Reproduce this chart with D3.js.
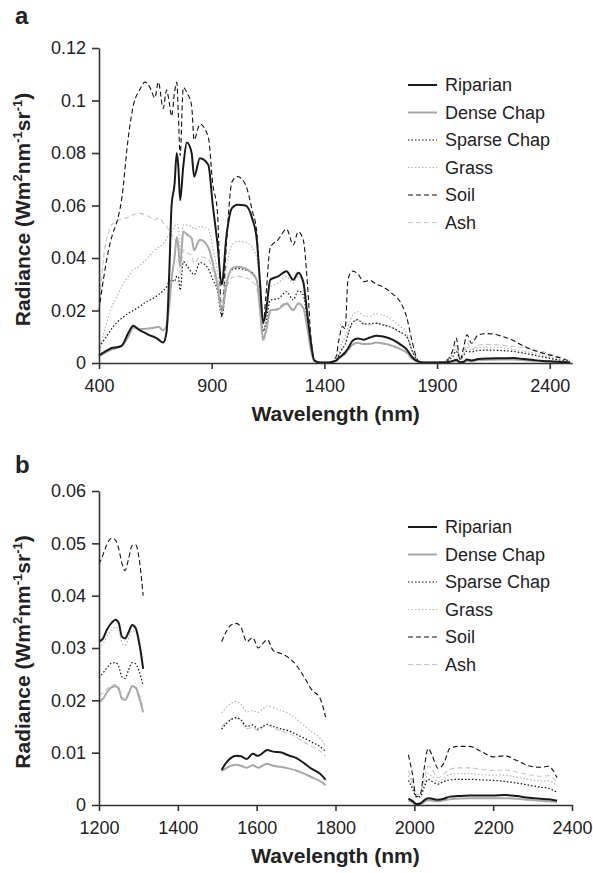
<!DOCTYPE html>
<html>
<head>
<meta charset="utf-8">
<script src="https://cdn.jsdelivr.net/npm/d3@7"></script>
<style>
    body { margin: 0; background: #fff; }
    text { font-family: Arial, "Liberation Sans", sans-serif; fill: #222; }
</style>
</head>
<body>
<div id="box-div"></div>
<script>
////////////////////////data////////////////////////
const seriesNames = ['Riparian', 'Dense Chap', 'Sparse Chap', 'Grass', 'Soil', 'Ash'];

// panel a: full spectrum
const wlA = [400, 420, 440, 460, 480, 500, 530, 552, 580, 604, 626, 648, 663, 685, 700, 712, 722, 735, 745, 752,
    760, 774, 790, 811, 822, 848, 885, 905, 925, 945, 965, 990, 1015, 1050, 1080, 1100, 1115, 1128, 1140, 1160,
    1195, 1232, 1262, 1284, 1306, 1325, 1340, 1355, 1380, 1420, 1450, 1465, 1480, 1492, 1505, 1525, 1548, 1575, 1602, 1630,
    1660, 1700, 1735, 1765, 1790, 1815, 1840, 1880, 1920, 1950, 1970, 1985, 2002, 2018, 2033, 2053, 2083, 2127, 2194, 2240,
    2283, 2330, 2371, 2410, 2450, 2490];
const riparianA = [0.003, 0.004, 0.005, 0.0058, 0.006, 0.0065, 0.0114, 0.0142, 0.0125, 0.0115, 0.0105, 0.0098, 0.009, 0.0078, 0.012, 0.035, 0.060, 0.068, 0.080, 0.075,
    0.062, 0.075, 0.084, 0.080, 0.071, 0.078, 0.0755, 0.060, 0.046, 0.030, 0.048, 0.059, 0.0603, 0.060, 0.055, 0.047, 0.030, 0.0155, 0.019, 0.0317,
    0.033, 0.035, 0.0317, 0.0344, 0.031, 0.018, 0.008, 0.001, 0.0002, 0.0002, 0.0008, 0.002, 0.003, 0.004, 0.0055, 0.0085, 0.0093, 0.0089, 0.0097, 0.0104,
    0.0101, 0.009, 0.0072, 0.0052, 0.0022, 0.0006, 0.0002, 0.0002, 0.0002, 0.0004, 0.0008, 0.0012, 0.0003, 0.0005, 0.0013, 0.001, 0.0015, 0.0017, 0.0018, 0.0019,
    0.0015, 0.0011, 0.0008, 0.0006, 0.0004, 0.0002];
const denseA = [0.0025, 0.0035, 0.0045, 0.0052, 0.0058, 0.0065, 0.010, 0.0135, 0.013, 0.013, 0.0132, 0.0135, 0.0138, 0.0125, 0.0145, 0.022, 0.032, 0.040, 0.048, 0.044,
    0.037, 0.050, 0.049, 0.0475, 0.043, 0.047, 0.044, 0.038, 0.030, 0.0196, 0.030, 0.036, 0.0367, 0.036, 0.034, 0.0317, 0.020, 0.009, 0.012, 0.020,
    0.0205, 0.0227, 0.0201, 0.0227, 0.021, 0.013, 0.005, 0.0008, 0.0002, 0.0002, 0.0007, 0.0018, 0.0028, 0.0035, 0.005, 0.007, 0.0077, 0.0072, 0.0073, 0.0078,
    0.0074, 0.0066, 0.0054, 0.004, 0.0016, 0.0005, 0.0002, 0.0002, 0.0002, 0.0003, 0.0006, 0.0008, 0.0001, 0.0003, 0.0009, 0.0007, 0.0011, 0.0012, 0.0013, 0.0013,
    0.0011, 0.0008, 0.0006, 0.0005, 0.0003, 0.0002];
const sparseA = [0.0062, 0.0085, 0.011, 0.0135, 0.0155, 0.017, 0.019, 0.020, 0.0215, 0.023, 0.024, 0.025, 0.026, 0.0275, 0.029, 0.031, 0.0317, 0.031, 0.033, 0.033,
    0.0278, 0.0386, 0.037, 0.0345, 0.0336, 0.0383, 0.036, 0.0317, 0.028, 0.0177, 0.030, 0.0355, 0.036, 0.0355, 0.0345, 0.031, 0.022, 0.012, 0.015, 0.024,
    0.0245, 0.0272, 0.024, 0.0275, 0.026, 0.016, 0.006, 0.001, 0.0002, 0.0002, 0.001, 0.003, 0.0055, 0.007, 0.011, 0.0155, 0.0165, 0.0148, 0.015, 0.0152,
    0.0145, 0.0135, 0.0118, 0.0102, 0.0045, 0.001, 0.0002, 0.0002, 0.0003, 0.001, 0.0025, 0.0045, 0.0015, 0.003, 0.0045, 0.0042, 0.0048, 0.0049, 0.0047, 0.0044,
    0.0038, 0.003, 0.0023, 0.0016, 0.001, 0.0004];
const grassA = [0.003, 0.011, 0.017, 0.022, 0.0255, 0.029, 0.033, 0.0355, 0.037, 0.039, 0.041, 0.043, 0.044, 0.0455, 0.0475, 0.049, 0.050, 0.052, 0.053, 0.052,
    0.042, 0.0525, 0.0525, 0.052, 0.051, 0.052, 0.051, 0.044, 0.035, 0.022, 0.036, 0.045, 0.0463, 0.046, 0.044, 0.040, 0.028, 0.012, 0.017, 0.029,
    0.0305, 0.033, 0.0305, 0.033, 0.031, 0.019, 0.008, 0.0012, 0.0002, 0.0002, 0.0015, 0.0045, 0.008, 0.010, 0.014, 0.018, 0.0195, 0.018, 0.0178, 0.0188,
    0.0182, 0.0165, 0.014, 0.0115, 0.005, 0.0012, 0.0002, 0.0002, 0.0004, 0.0014, 0.0035, 0.0055, 0.0015, 0.0035, 0.006, 0.0048, 0.0058, 0.006, 0.0057, 0.0052,
    0.0045, 0.0038, 0.003, 0.0022, 0.0014, 0.0005];
const soilA = [0.020, 0.032, 0.042, 0.049, 0.054, 0.062, 0.086, 0.098, 0.104, 0.107, 0.105, 0.101, 0.107, 0.097, 0.104, 0.099, 0.094, 0.103, 0.107, 0.095,
    0.079, 0.105, 0.103, 0.098, 0.085, 0.091, 0.086, 0.068, 0.058, 0.018, 0.045, 0.069, 0.071, 0.068, 0.058, 0.050, 0.028, 0.015, 0.025, 0.044,
    0.047, 0.051, 0.045, 0.050, 0.047, 0.030, 0.010, 0.001, 0.0002, 0.0002, 0.002, 0.009, 0.014, 0.013, 0.032, 0.035, 0.034, 0.031, 0.0315, 0.030,
    0.029, 0.0265, 0.0235, 0.0175, 0.008, 0.001, 0.0002, 0.0002, 0.0003, 0.0015, 0.005, 0.0095, 0.001, 0.006, 0.0107, 0.0075, 0.0107, 0.0112, 0.010, 0.0085,
    0.0065, 0.0048, 0.0037, 0.0028, 0.0018, 0.0005];
const ashA = [0.019, 0.040, 0.049, 0.053, 0.054, 0.055, 0.0555, 0.0565, 0.057, 0.0565, 0.0555, 0.0545, 0.0552, 0.0535, 0.052, 0.0505, 0.049, 0.047, 0.046, 0.043,
    0.034, 0.043, 0.042, 0.041, 0.038, 0.0405, 0.0395, 0.035, 0.029, 0.0195, 0.028, 0.0325, 0.033, 0.0325, 0.031, 0.0285, 0.019, 0.008, 0.011, 0.019,
    0.021, 0.023, 0.0205, 0.0228, 0.0212, 0.0135, 0.0055, 0.0009, 0.0002, 0.0002, 0.001, 0.003, 0.0055, 0.007, 0.011, 0.015, 0.0165, 0.015, 0.0145, 0.0152,
    0.0147, 0.0135, 0.0118, 0.0098, 0.0045, 0.001, 0.0002, 0.0002, 0.0004, 0.0018, 0.0045, 0.0066, 0.002, 0.0045, 0.0075, 0.0052, 0.0068, 0.0071, 0.0067, 0.0063,
    0.0057, 0.005, 0.0043, 0.0033, 0.0022, 0.0008];

// panel b: three windows, null marks the gaps
const wlB = [1200, 1210, 1220, 1232, 1242, 1250, 1258, 1266, 1275, 1284, 1293, 1302, 1312,
    1410,
    1511, 1522, 1535, 1548, 1560, 1575, 1590, 1604, 1615, 1627, 1642, 1660, 1680, 1700, 1720, 1740, 1760, 1775,
    1880,
    1985, 1995, 2005, 2015, 2025, 2035, 2045, 2060, 2075, 2090, 2110, 2140, 2170, 2200, 2230, 2260, 2290, 2320, 2340, 2362];
const riparianB = [0.0312, 0.0318, 0.0335, 0.0348, 0.0354, 0.0348, 0.0322, 0.0318, 0.0330, 0.0344, 0.0338, 0.0310, 0.0260,
    null,
    0.0067, 0.0080, 0.0090, 0.0094, 0.0093, 0.0088, 0.0098, 0.0094, 0.0099, 0.0105, 0.0102, 0.0101, 0.0095, 0.0090, 0.0080, 0.0069, 0.0060, 0.0048,
    null,
    0.0012, 0.0008, 0.0002, 0.0003, 0.0009, 0.0013, 0.0012, 0.0010, 0.0012, 0.0016, 0.0017, 0.0018, 0.0018, 0.0018, 0.0019, 0.0017, 0.0014, 0.0012, 0.0011, 0.0008];
const denseB = [0.0197, 0.0203, 0.0215, 0.0225, 0.0227, 0.0222, 0.0203, 0.0201, 0.0212, 0.0227, 0.0224, 0.0205, 0.0177,
    null,
    0.0065, 0.0070, 0.0075, 0.0077, 0.0075, 0.0071, 0.0076, 0.0071, 0.0075, 0.0079, 0.0075, 0.0073, 0.0070, 0.0066, 0.0060, 0.0053, 0.0046, 0.0038,
    null,
    0.0008, 0.0005, 0.0000, 0.0001, 0.0006, 0.0009, 0.0008, 0.0007, 0.0009, 0.0011, 0.0012, 0.0013, 0.0013, 0.0013, 0.0013, 0.0012, 0.0010, 0.0008, 0.0007, 0.0006];
const sparseB = [0.0243, 0.0252, 0.0262, 0.0271, 0.0272, 0.0265, 0.0245, 0.0242, 0.0258, 0.0272, 0.0270, 0.0255, 0.0228,
    null,
    0.0145, 0.0155, 0.0163, 0.0167, 0.0163, 0.0150, 0.0153, 0.0145, 0.0150, 0.0154, 0.0150, 0.0146, 0.0142, 0.0135, 0.0128, 0.0120, 0.0112, 0.0102,
    null,
    0.0047, 0.0032, 0.0015, 0.0016, 0.0034, 0.0049, 0.0045, 0.0040, 0.0045, 0.0048, 0.0049, 0.0049, 0.0048, 0.0047, 0.0045, 0.0042, 0.0038, 0.0034, 0.0032, 0.0024];
const grassB = [0.0300, 0.0308, 0.0322, 0.0334, 0.0340, 0.0335, 0.0310, 0.0305, 0.0318, 0.0333, 0.0330, 0.0305, 0.0282,
    null,
    0.0176, 0.0186, 0.0194, 0.0198, 0.0192, 0.0178, 0.0180, 0.0177, 0.0183, 0.0189, 0.0186, 0.0181, 0.0175, 0.0165, 0.0152, 0.0140, 0.0128, 0.0112,
    null,
    0.0056, 0.0038, 0.0016, 0.0018, 0.0040, 0.0060, 0.0055, 0.0045, 0.0052, 0.0058, 0.0060, 0.0060, 0.0058, 0.0057, 0.0057, 0.0053, 0.0049, 0.0046, 0.0046, 0.0036];
const soilB = [0.0460, 0.0478, 0.0498, 0.0510, 0.0506, 0.0490, 0.0462, 0.0448, 0.0470, 0.0496, 0.0497, 0.0470, 0.0400,
    null,
    0.0312, 0.0330, 0.0344, 0.0347, 0.0340, 0.0312, 0.0320, 0.0300, 0.0308, 0.0316, 0.0295, 0.0290, 0.0282, 0.0268, 0.0245, 0.0220, 0.0205, 0.0168,
    null,
    0.0096, 0.0060, 0.0016, 0.0020, 0.0070, 0.0108, 0.0095, 0.0070, 0.0080, 0.0108, 0.0112, 0.0112, 0.0102, 0.0092, 0.0094, 0.0085, 0.0075, 0.0072, 0.0074, 0.0052];
const ashB = [0.0210, 0.0214, 0.0222, 0.0229, 0.0230, 0.0225, 0.0206, 0.0205, 0.0215, 0.0228, 0.0226, 0.0212, 0.0185,
    null,
    0.0150, 0.0158, 0.0164, 0.0166, 0.0160, 0.0146, 0.0148, 0.0142, 0.0148, 0.0152, 0.0147, 0.0142, 0.0137, 0.0130, 0.0120, 0.0112, 0.0104, 0.0093,
    null,
    0.0066, 0.0045, 0.0020, 0.0022, 0.0050, 0.0074, 0.0068, 0.0052, 0.0060, 0.0068, 0.0071, 0.0071, 0.0068, 0.0066, 0.0067, 0.0063, 0.0058, 0.0055, 0.0056, 0.0044];

const xTicksA = [400, 900, 1400, 1900, 2400];
const yTicksA = [0, 0.02, 0.04, 0.06, 0.08, 0.1, 0.12];
const xTicksB = [1200, 1400, 1600, 1800, 2000, 2200, 2400];
const yTicksB = [0, 0.01, 0.02, 0.03, 0.04, 0.05, 0.06];

////////////////////////styles////////////////////////
const lineStyle = {
    'Riparian':    { stroke: '#1a1a1a', width: 2,   dash: null },
    'Dense Chap':  { stroke: '#a8a8a8', width: 2,   dash: null },
    'Sparse Chap': { stroke: '#111',    width: 1.2, dash: '1.5,2' },
    'Grass':       { stroke: '#b4b4b4', width: 1.2, dash: '1.5,2' },
    'Soil':        { stroke: '#111',    width: 1.1, dash: '5,3' },
    'Ash':         { stroke: '#c4c4c4', width: 1.1, dash: '5,3' }
};

let dms = { width: 593, height: 873 };

const box = d3.select('#box-div').append('svg')
    .attr('width', dms.width)
    .attr('height', dms.height);

const tickFmt = d => d === 0 ? '0' : String(+d.toFixed(3));

function drawPanel (p) {
    const g = box.append('g').attr('id', 'panel-' + p.label);

    const xScale = d3.scaleLinear().domain(p.xDomain).range([p.left, p.right]);
    const yScale = d3.scaleLinear().domain(p.yDomain).range([p.bottom, p.top]);

    // curves, Riparian drawn last so it sits on top
    const lineGenerator = d3.line()
        .defined(d => d.v != null)
        .x(d => xScale(d.w))
        .y(d => yScale(d.v))
        .curve(d3.curveMonotoneX);

    const order = seriesNames.slice().reverse();
    g.append('g').selectAll('path')
        .data(order)
        .join('path')
        .attr('d', name => lineGenerator(p.wl.map((w, i) => ({ w: w, v: p.values[name][i] }))))
        .attr('fill', 'none')
        .attr('stroke', name => lineStyle[name].stroke)
        .attr('stroke-width', name => lineStyle[name].width)
        .attr('stroke-dasharray', name => lineStyle[name].dash)
        .attr('stroke-linejoin', 'round');

    // axes
    const xAxis = g.append('g')
        .attr('transform', `translate(0, ${p.bottom})`)
        .call(d3.axisBottom(xScale).tickValues(p.xTicks).tickSize(6).tickSizeOuter(0).tickPadding(10).tickFormat(d3.format('d')));
    const yAxis = g.append('g')
        .attr('transform', `translate(${p.left}, 0)`)
        .call(d3.axisLeft(yScale).tickValues(p.yTicks).tickSize(7).tickSizeOuter(0).tickPadding(6).tickFormat(tickFmt));

    [xAxis, yAxis].forEach(a => {
        a.attr('font-family', null).attr('font-size', null);
        a.selectAll('.domain, .tick line').attr('stroke', '#333').attr('stroke-width', 1.6);
        a.selectAll('.tick text').style('font-size', '18px').attr('fill', '#222');
    });

    // axis titles
    g.append('text')
        .attr('x', (p.left + p.right) / 2)
        .attr('y', p.bottom + 58)
        .attr('text-anchor', 'middle')
        .style('font-size', '21px')
        .style('font-weight', 'bold')
        .text('Wavelength (nm)');

    const yt = g.append('text')
        .attr('transform', `translate(30, ${(p.top + p.bottom) / 2 + 4}) rotate(-90)`)
        .attr('text-anchor', 'middle')
        .style('font-size', '21px')
        .style('font-weight', 'bold');
    yt.append('tspan').text('Radiance (Wm');
    yt.append('tspan').attr('dy', -8).style('font-size', '13px').text('2');
    yt.append('tspan').attr('dy', 8).text('nm');
    yt.append('tspan').attr('dy', -8).style('font-size', '13px').text('-1');
    yt.append('tspan').attr('dy', 8).text('sr');
    yt.append('tspan').attr('dy', -8).style('font-size', '13px').text('-1');
    yt.append('tspan').attr('dy', 8).text(')');

    // panel letter
    g.append('text')
        .attr('x', 15)
        .attr('y', p.labelY)
        .style('font-size', '24px')
        .style('font-weight', 'bold')
        .text(p.label);

    // legend
    const legend = g.append('g').attr('transform', `translate(${p.legendX}, ${p.legendY})`);
    const rows = legend.selectAll('g')
        .data(seriesNames)
        .join('g')
        .attr('transform', (d, i) => `translate(0, ${i * 27.5})`);
    rows.append('line')
        .attr('x1', 0).attr('x2', 29)
        .attr('stroke', d => lineStyle[d].stroke)
        .attr('stroke-width', d => lineStyle[d].width)
        .attr('stroke-dasharray', d => lineStyle[d].dash);
    rows.append('text')
        .attr('x', 37)
        .attr('dy', '0.36em')
        .style('font-size', '18px')
        .text(d => d);
}

drawPanel({
    label: 'a', labelY: 24,
    left: 99, right: 572.3, top: 48, bottom: 363,
    xDomain: [400, 2500], yDomain: [0, 0.12],
    xTicks: xTicksA, yTicks: yTicksA,
    wl: wlA,
    values: { 'Riparian': riparianA, 'Dense Chap': denseA, 'Sparse Chap': sparseA, 'Grass': grassA, 'Soil': soilA, 'Ash': ashA },
    legendX: 408, legendY: 85
});

drawPanel({
    label: 'b', labelY: 473,
    left: 99, right: 572, top: 491, bottom: 805,
    xDomain: [1200, 2400], yDomain: [0, 0.06],
    xTicks: xTicksB, yTicks: yTicksB,
    wl: wlB,
    values: { 'Riparian': riparianB, 'Dense Chap': denseB, 'Sparse Chap': sparseB, 'Grass': grassB, 'Soil': soilB, 'Ash': ashB },
    legendX: 408, legendY: 527
});
</script>
</body>
</html>
